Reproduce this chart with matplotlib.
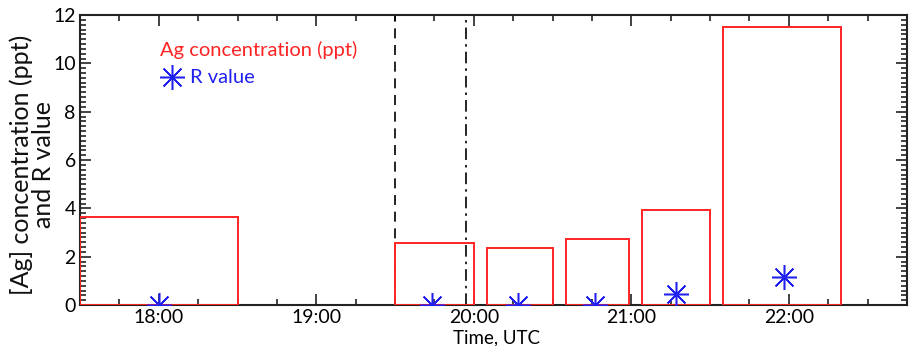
import matplotlib
matplotlib.use("Agg")
import matplotlib.pyplot as plt
from matplotlib.ticker import MultipleLocator, FixedLocator

plt.rcParams['font.family'] = ['Lato', 'DejaVu Sans']

# --- data (times in hours UTC) ---
bar_start = [17.5, 19.5, 20 + 5/60, 20 + 35/60, 21 + 4/60, 21 + 35/60]
bar_end = [18.5, 20.0, 20.5, 20 + 59/60, 21.5, 22 + 20/60]
ag_ppt = [3.65, 2.57, 2.34, 2.75, 3.95, 11.5]

r_time = [18.0, 19 + 44/60, 20 + 17/60, 20 + 46/60, 21 + 17/60, 21 + 58/60]
r_value = [0.0, 0.0, 0.0, 0.0, 0.45, 1.16]

vline_dashed = 19.5
vline_dashdot = 19 + 57/60

xticks = [18, 19, 20, 21, 22]
xtick_labels = ["18:00", "19:00", "20:00", "21:00", "22:00"]
yticks = [0, 2, 4, 6, 8, 10, 12]

RED = '#ff2424'
BLUE = '#2020f0'

fig = plt.figure(figsize=(9.12, 3.46), dpi=100)
ax = fig.add_axes([80/912, 1 - 305/346, (907 - 80)/912, (305 - 15)/346])

widths = [e - s for s, e in zip(bar_start, bar_end)]
ax.bar(bar_start, ag_ppt, width=widths, align='edge', fill=False,
       edgecolor=RED, linewidth=1.4, zorder=3)

ax.axvline(vline_dashed, color='black', linestyle=(0, (6, 4)), linewidth=1.2, zorder=2)
ax.axvline(vline_dashdot, color='black', linestyle=(0, (7, 3, 1.5, 3)), linewidth=1.2, zorder=2)

ax.plot(r_time, r_value, linestyle='none', marker=(8, 2, 0), markersize=18,
        markeredgewidth=1.1, color=BLUE, zorder=4)

ax.set_xlim(17.5, 22.75)
ax.set_ylim(0, 12)
ax.xaxis.set_major_locator(FixedLocator(xticks))
ax.set_xticklabels(xtick_labels)
ax.xaxis.set_minor_locator(MultipleLocator(0.25))
ax.yaxis.set_major_locator(FixedLocator(yticks))
ax.yaxis.set_minor_locator(MultipleLocator(0.2))

ax.tick_params(which='both', direction='in', top=True, right=True, width=1.2, color='#222222')
ax.tick_params(which='major', length=8, labelsize=14)
ax.tick_params(axis='x', which='major', pad=3)
ax.tick_params(axis='y', which='major', pad=3)
ax.tick_params(which='minor', length=4)
for sp in ax.spines.values():
    sp.set_linewidth(1.5)
    sp.set_color('#222222')

fig.text(497/912, 1 - 338/346, "Time, UTC", ha='center', va='center', fontsize=13.5)
fig.text(0.0355, 1 - 165/346, "[Ag] concentration (ppt)\nand R value", rotation=90,
         ha='center', va='center', fontsize=18, linespacing=0.95, color='#111111')

# legend-style annotations
ax.text(0.097, 0.88, "Ag concentration (ppt)", transform=ax.transAxes, color=RED,
        fontsize=14.5, va='center', ha='left')
ax.plot([0.111], [0.785], transform=ax.transAxes, marker=(8, 2, 0), markersize=18,
        markeredgewidth=1.1, color=BLUE, clip_on=False)
ax.text(0.133, 0.785, "R value", transform=ax.transAxes, color=BLUE,
        fontsize=14.5, va='center', ha='left')

fig.savefig("out.png", dpi=100)
